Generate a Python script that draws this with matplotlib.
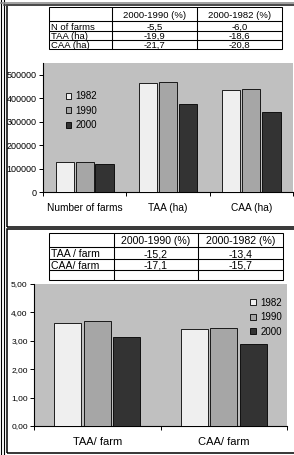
import matplotlib
matplotlib.use('Agg')
import matplotlib.pyplot as plt
from matplotlib.patches import Rectangle
from matplotlib.lines import Line2D

plt.rcParams['font.family'] = ['Liberation Sans', 'DejaVu Sans']

# data
years = ['1982', '1990', '2000']
cat_top = ['Number of farms', 'TAA (ha)', 'CAA (ha)']
vals_top = {'1982': [127700, 463000, 434600],
            '1990': [127000, 467000, 441000],
            '2000': [120000, 377000, 343000]}
yticks_top = [0, 100000, 200000, 300000, 400000, 500000]

cat_bot = ['TAA/ farm', 'CAA/ farm']
vals_bot = {'1982': [3.64, 3.42],
            '1990': [3.69, 3.46],
            '2000': [3.15, 2.87]}
yticks_bot = [0, 1, 2, 3, 4, 5]
yticklabels_bot = ['0,00', '1,00', '2,00', '3,00', '4,00', '5,00']

tab_head = ['', '2000-1990 (%)', '2000-1982 (%)']
tab1_rows = ['N of farms', 'TAA (ha)', 'CAA (ha)']
tab1_vals = [['-5,5', '-6,0'], ['-19,9', '-18,6'], ['-21,7', '-20,8']]
tab2_rows = ['TAA / farm', 'CAA/ farm']
tab2_vals = [['-15,2', '-13,4'], ['-17,1', '-15,7']]

colors = {'1982': '#efefef', '1990': '#a6a6a6', '2000': '#333333'}
bg = '#c0c0c0'

W, H = 294, 455
fig = plt.figure(figsize=(W / 100, H / 100), dpi=100)


def box(x0, y0, x1, y1):
    # pixel box (top-left origin) -> figure fraction rect
    return [x0 / W, 1 - y1 / H, (x1 - x0) / W, (y1 - y0) / H]


def fx(x):
    return x / W


def fy(y):
    return 1 - y / H


# frames
for x in [1.5, 4]:
    fig.add_artist(Line2D([fx(x), fx(x)], [0, 1], color='black', lw=0.8))
fig.add_artist(Line2D([0, 1], [fy(2.5), fy(2.5)], color='#909090', lw=1.2))
fig.add_artist(Line2D([fx(4), 1], [fy(5), fy(5)], color='#505050', lw=1.2))
fig.add_artist(Rectangle((fx(7), fy(227)), 1.2, fy(5) - fy(227), fill=False,
                         ec='black', lw=1.1, transform=fig.transFigure))
fig.add_artist(Rectangle((fx(7), fy(453)), 1.2, fy(229) - fy(453), fill=False,
                         ec='black', lw=1.1, transform=fig.transFigure))


def draw_table(cols, rows_y, head, labels, vals, fs):
    n_r = len(rows_y) - 1
    n_c = len(cols) - 1
    for i in range(n_r):
        for j in range(n_c):
            x0, x1 = cols[j], cols[j + 1]
            y0, y1 = rows_y[i], rows_y[i + 1]
            fig.add_artist(Rectangle((fx(x0), fy(y1)), fx(x1) - fx(x0),
                                     fy(y0) - fy(y1), fill=False, ec='black',
                                     lw=0.75, transform=fig.transFigure))
            if i == 0:
                txt = head[j]
            elif i - 1 < len(labels):
                txt = labels[i - 1] if j == 0 else vals[i - 1][j - 1]
            else:
                txt = ''
            yc = fy((y0 + y1) / 2 + 0.3)
            if j == 0:
                fig.text(fx(x0 + 2), yc, txt, fontsize=fs, ha='left', va='center_baseline')
            else:
                fig.text(fx((x0 + x1) / 2), yc, txt, fontsize=fs, ha='center', va='center_baseline')


draw_table([49, 112, 197, 282], [7, 21, 31, 40, 49], tab_head, tab1_rows, tab1_vals, 6.8)
draw_table([49, 114, 198, 283], [233, 247, 259, 270, 280], tab_head, tab2_rows, tab2_vals, 7.6)


def bar_chart(rect, cats, vals, width, step, ylim, yt, ytl, tfs, xfs, lfs, loc, anchor):
    ax = fig.add_axes(rect)
    ax.set_facecolor(bg)
    n = len(cats)
    for k, yr in enumerate(years):
        xs = [i + (k - 1) * step for i in range(n)]
        ax.bar(xs, vals[yr], width=width, color=colors[yr], edgecolor='black',
               linewidth=0.6, label=yr, zorder=3)
    ax.set_xlim(-0.5, n - 0.5)
    ax.set_ylim(*ylim)
    ax.set_yticks(yt)
    ax.set_yticklabels(ytl, fontsize=tfs)
    ax.set_xticks([i - 0.5 for i in range(n + 1)])
    ax.set_xticklabels([])
    ax.set_xticks(range(n), minor=True)
    ax.set_xticklabels(cats, minor=True, fontsize=xfs)
    ax.tick_params(axis='x', which='minor', length=0, pad=8)
    ax.tick_params(axis='x', which='major', length=3, width=0.7, direction='out')
    ax.tick_params(axis='y', length=3, width=0.7, direction='out', pad=1.5)
    for s in ['top', 'right']:
        ax.spines[s].set_visible(False)
    for s in ['left', 'bottom']:
        ax.spines[s].set_linewidth(0.8)
    leg = ax.legend(loc=loc, bbox_to_anchor=anchor, frameon=False, fontsize=lfs,
                    handlelength=0.6, handleheight=0.6, handletextpad=0.4,
                    labelspacing=0.45, borderaxespad=0)
    return ax


bar_chart(box(43, 63, 293, 192), cat_top, vals_top, 0.22, 0.24,
          (0, 550000), yticks_top, [str(v) for v in yticks_top], 6.5, 7.3, 7,
          'upper left', (0.075, 0.81))
bar_chart(box(34, 284, 287, 426), cat_bot, vals_bot, 0.215, 0.233,
          (0, 5), yticks_bot, yticklabels_bot, 6, 8, 7,
          'upper left', (0.84, 0.93))

fig.savefig('out.png', dpi=100)
